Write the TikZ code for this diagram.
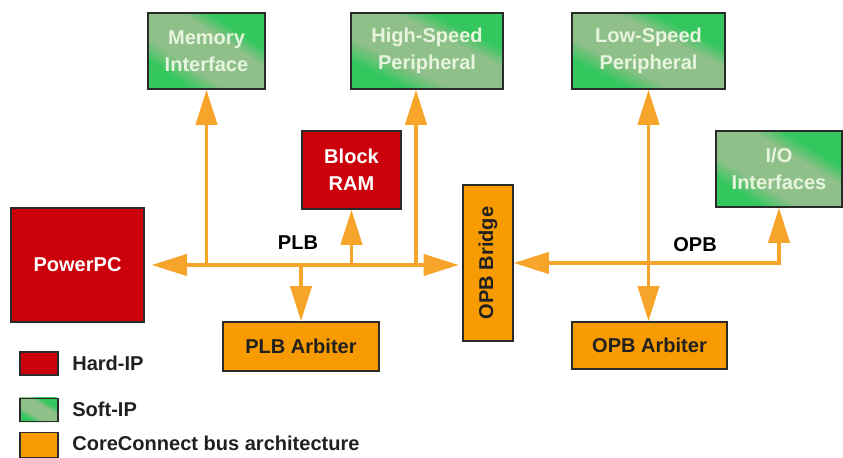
\documentclass[tikz,border=0pt]{standalone}
\usepackage{fontspec}
\setmainfont{Liberation Sans}
\usetikzlibrary{arrows.meta,calc,backgrounds}
\definecolor{hardred}{HTML}{CC000A}
\definecolor{coreorange}{HTML}{F79B00}
\definecolor{busorange}{HTML}{F7A52A}
\definecolor{softgreen}{HTML}{33C75E}
\definecolor{softpale}{HTML}{8FC08A}
\definecolor{softtext}{HTML}{E8F5DE}
\definecolor{boxline}{HTML}{2A2A2A}
\definecolor{keytext}{HTML}{202020}
\tikzset{
    hardip/.style={draw=boxline, line width=0.8pt, fill=hardred, text=white, inner sep=0pt, align=center},
    softip/.style={draw=boxline, line width=0.8pt, text=softtext, inner sep=0pt, align=center},
    corebox/.style={draw=boxline, line width=0.8pt, fill=coreorange, text=keytext, inner sep=0pt, align=center},
    busline/.style={busorange, line width=2.2pt},
    keylabel/.style={anchor=west, inner sep=0pt, text=keytext}
}
% diagonal green bands behind a soft-IP box
\newcommand{\softshade}[1]{%
  \begin{scope}
    \clip (#1.south west) rectangle (#1.north east);
    \fill[softpale] (#1.south west) rectangle (#1.north east);
    \foreach \s in {0,0.05,...,1.95}{
      \pgfmathsetmacro\e{\s+0.06}
      \pgfmathsetmacro\g{100*max(0,min(1,max((0.65-\s)/0.3,(\s-1.25)/0.25)))}
      \fill[softgreen!\g!softpale] ($(#1.south west)!\s!(#1.south east)$) -- ($(#1.south west)!\e!(#1.south east)$)
          -- ($(#1.south west)!\e!(#1.north west)$) -- ($(#1.south west)!\s!(#1.north west)$) -- cycle;
    }
  \end{scope}}

\begin{document}
\begin{tikzpicture}[>={Triangle[length=20pt,width=12pt]}, font=\bfseries\fontsize{11.4}{15.4}\selectfont]
    \useasboundingbox (0,0) rectangle (16.86,9.16);
    % Soft-IP blocks on top and right.
        \node[softip, minimum width=2.34cm, minimum height=1.52cm] (mem) at (4.13,8.14) {Memory\\Interface};
        \node[softip, minimum width=3.04cm, minimum height=1.52cm] (hsp) at (8.54,8.14) {High-Speed\\Peripheral};
        \node[softip, minimum width=3.06cm, minimum height=1.52cm] (lsp) at (12.97,8.14) {Low-Speed\\Peripheral};
        \node[softip, minimum width=2.52cm, minimum height=1.52cm] (io) at (15.58,5.78) {I/O\\Interfaces};
    % Hard-IP blocks.
        \node[hardip, minimum width=1.98cm, minimum height=1.56cm] (bram) at (7.03,5.76) {Block\\RAM};
        \node[hardip, minimum width=2.66cm, minimum height=2.28cm] (ppc) at (1.55,3.86) {PowerPC};
    % CoreConnect blocks.
        \node[corebox, minimum width=3.12cm, minimum height=0.98cm] (plbarb) at (6.02,2.23) {PLB Arbiter};
        \node[corebox, minimum width=1.0cm, minimum height=3.12cm] (opbbr) at (9.76,3.90) {\rotatebox{90}{OPB Bridge}};
        \node[corebox, minimum width=3.10cm, minimum height=0.94cm] (opbarb) at (12.99,2.25) {OPB Arbiter};
    % This draws the PLB bus.
        \coordinate (hspTap) at (8.32,3.86);
        \draw[busline, <->, shorten <=4pt, shorten >=2pt] (ppc.east) -- (opbbr.west |- ppc.east);
        \draw[busline, ->] (mem.south |- ppc.east) -- (mem.south);
        \draw[busline, ->] (hspTap) -- (hspTap |- hsp.south);
        \draw[busline, ->] (bram.south |- ppc.east) -- (bram.south);
        \draw[busline, ->] (plbarb.north |- ppc.east) -- (plbarb.north);
    % This draws the OPB bus.
        \draw[busline, <->] (opbbr.east) -- (io.south |- opbbr.east) -- (io.south);
        \draw[busline, <->] (lsp.south) -- (lsp.south |- opbarb.north);
    % Below nodes are the labels.
        \node (plblbl) at (5.96,4.31) {PLB};
        \node (opblbl) at (13.9,4.27) {OPB};
    % Legend.
        \node[hardip, minimum width=0.76cm, minimum height=0.46cm] (keyhard) at (0.78,1.89) {};
        \node[softip, minimum width=0.76cm, minimum height=0.46cm] (keysoft) at (0.78,0.96) {};
        \node[corebox, minimum width=0.76cm, minimum height=0.50cm] (keycore) at (0.78,0.26) {};
        \node[keylabel] (hardtxt) at (1.44,1.89) {Hard-IP};
        \node[keylabel] (softtxt) at (1.44,0.98) {Soft-IP};
        \node[keylabel] (coretxt) at (1.44,0.30) {CoreConnect bus architecture};
    % Green bands go behind the soft-IP text.
        \begin{scope}[on background layer]
            \foreach \b in {mem,hsp,lsp,io,keysoft}{\softshade{\b}}
        \end{scope}
\end{tikzpicture}
\end{document}
